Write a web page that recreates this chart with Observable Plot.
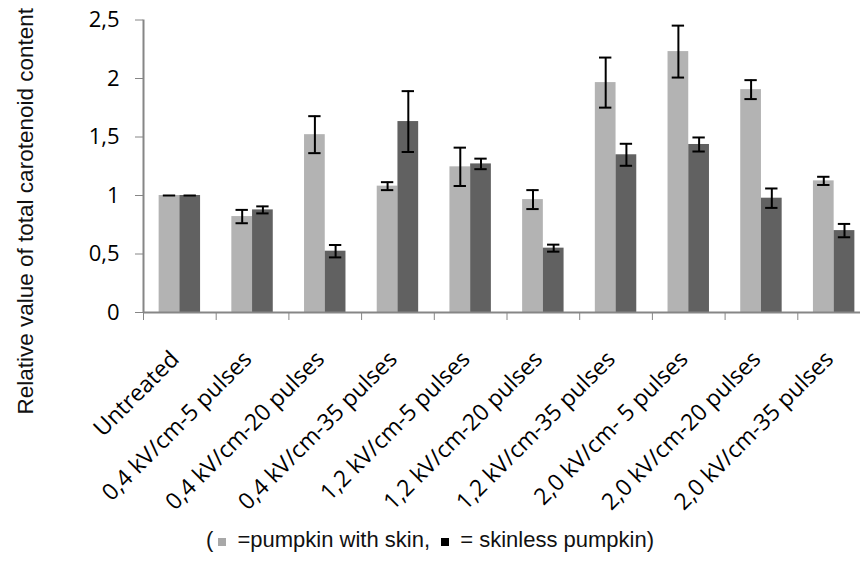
<!DOCTYPE html>
<html>
<head>
<meta charset="utf-8">
<script src="https://cdn.jsdelivr.net/npm/d3@7"></script>
<script src="https://cdn.jsdelivr.net/npm/@observablehq/plot@0.6"></script>
<style>
  html, body { margin: 0; padding: 0; background: #fff; }
  #chart { width: 860px; }
  #chart svg { display: block; overflow: visible; }
  /* gray tick marks, black tick text */
  [aria-label="y-axis tick"], [aria-label="x-axis tick"] { color: #868686; }
  g[aria-label="y-axis"] line, g[aria-label="x-axis"] line { stroke: #868686; }
  #legend {
    width: 860px;
    height: 43px;
    box-sizing: border-box;
    padding-top: 8px;
    text-align: center;
    font: 22px "Liberation Sans", Arial, sans-serif;
    color: #111;
    line-height: 24px;
    white-space: nowrap;
  }
  #legend .sw {
    display: inline-block;
    width: 8px;
    height: 8px;
    margin: 0 5px 0 5px;
    vertical-align: 1px;
  }
</style>
</head>
<body>
<div id="chart"></div>
<div id="legend">(<span class="sw" style="background:#a8a8a8"></span> =pumpkin with skin, <span class="sw" style="background:#000"></span> = skinless pumpkin)</div>
<script>
// PEF treatments (field strength – number of pulses)
const categories = [
  "Untreated",
  "0,4 kV/cm-5 pulses",
  "0,4 kV/cm-20 pulses",
  "0,4 kV/cm-35 pulses",
  "1,2 kV/cm-5 pulses",
  "1,2 kV/cm-20 pulses",
  "1,2 kV/cm-35 pulses",
  "2,0 kV/cm- 5 pulses",
  "2,0 kV/cm-20 pulses",
  "2,0 kV/cm-35 pulses"
];

const seriesNames = ["pumpkin with skin", "skinless pumpkin"];

// Relative carotenoid content and standard deviation
const withSkin    = [1.00, 0.82, 1.52, 1.08, 1.245, 0.965, 1.965, 2.23, 1.905, 1.125];
const withSkinErr = [0.00, 0.057, 0.158, 0.034, 0.164, 0.081, 0.214, 0.222, 0.081, 0.035];
const skinless    = [1.00, 0.877, 0.524, 1.632, 1.27, 0.55, 1.348, 1.436, 0.977, 0.70];
const skinlessErr = [0.00, 0.030, 0.053, 0.260, 0.045, 0.030, 0.094, 0.060, 0.083, 0.057];

const yTicks = [0, 0.5, 1, 1.5, 2, 2.5];
const yTickLabels = ["0", "0,5", "1", "1,5", "2", "2,5"];

const seriesColors = ["#b3b3b3", "#616161"];

// bar geometry in category units
const barWidth = 0.285;
const capHalf = 0.085;

const rows = [];
categories.forEach((cat, i) => {
  rows.push({i, cat, series: seriesNames[0], value: withSkin[i], err: withSkinErr[i], x1: i - barWidth, x2: i});
  rows.push({i, cat, series: seriesNames[1], value: skinless[i], err: skinlessErr[i], x1: i, x2: i + barWidth});
});
rows.forEach(d => { d.cx = (d.x1 + d.x2) / 2; });

// tick marks sit between the categories
const boundaries = categories.map((_, i) => i - 0.5).concat([categories.length - 0.5]);

const chart = Plot.plot({
  width: 860,
  height: 520,
  marginLeft: 143,
  marginRight: 0,
  marginTop: 19.5,
  marginBottom: 208,
  style: {fontFamily: "'Open Sans', sans-serif", fontSize: "22px", color: "#000", background: "#fff", overflow: "visible"},
  x: {
    type: "linear",
    domain: [-0.5, categories.length - 0.5],
    range: [143, 143 + 72.7 * categories.length],
    ticks: boundaries,
    tickFormat: () => "",
    tickSize: 8,
    label: null
  },
  y: {
    domain: [0, 2.5],
    ticks: yTicks,
    tickFormat: d => yTickLabels[yTicks.indexOf(d)],
    tickSize: 8,
    tickPadding: 16,
    label: null
  },
  color: {domain: seriesNames, range: seriesColors},
  marks: [
    Plot.rectY(rows, {x1: "x1", x2: "x2", y1: 0, y2: "value", fill: "series"}),
    // error bars
    Plot.ruleX(rows, {x: "cx", y1: d => d.value - d.err, y2: d => d.value + d.err, stroke: "#000", strokeWidth: 2}),
    Plot.ruleY(rows, {y: d => d.value + d.err, x1: d => d.cx - capHalf, x2: d => d.cx + capHalf, stroke: "#000", strokeWidth: 2}),
    Plot.ruleY(rows.filter(d => d.err > 0), {y: d => d.value - d.err, x1: d => d.cx - capHalf, x2: d => d.cx + capHalf, stroke: "#000", strokeWidth: 2}),
    // axis lines
    Plot.ruleY([0], {stroke: "#868686", strokeWidth: 2}),
    Plot.ruleX([-0.5], {stroke: "#868686", strokeWidth: 2}),
    // category labels
    Plot.text(categories, {
      x: (d, i) => i,
      frameAnchor: "bottom",
      text: d => d,
      rotate: -45,
      textAnchor: "end",
      dx: 0.5,
      dy: 48,
      fontSize: 23,
      fill: "#000"
    }),
    // y-axis title
    Plot.text(["Relative value of total carotenoid content"], {
      frameAnchor: "left",
      text: d => d,
      rotate: -90,
      textAnchor: "middle",
      dx: -118,
      dy: 45,
      fontSize: 22.5,
      fontFamily: "'Liberation Sans', Arial, sans-serif",
      fill: "#111"
    })
  ]
});

document.getElementById("chart").appendChild(chart);
</script>
</body>
</html>
